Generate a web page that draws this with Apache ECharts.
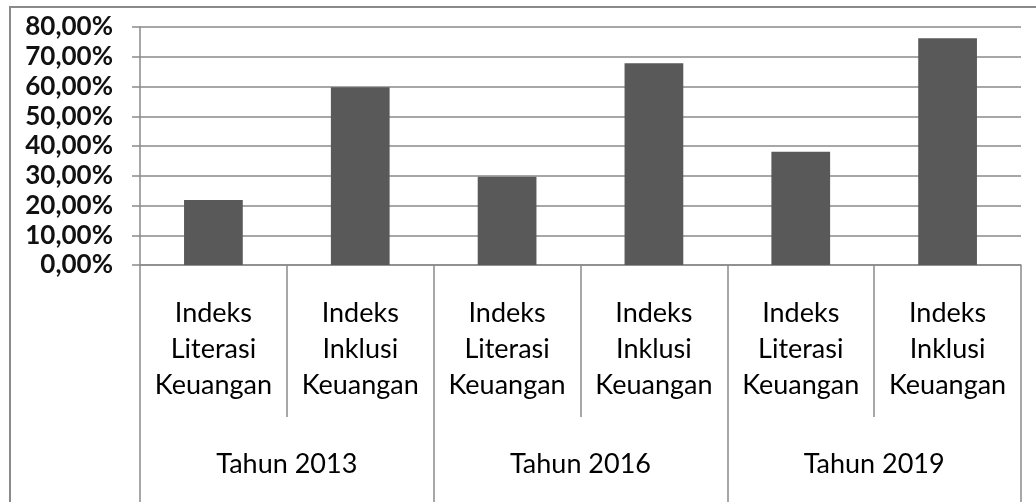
<!DOCTYPE html>
<html>
<head>
<meta charset="utf-8">
<script src="https://cdn.jsdelivr.net/npm/echarts@6/dist/echarts.min.js"></script>
<style>
html,body{margin:0;padding:0;background:#fff;}
#chart{width:1036px;height:502px;}
</style>
</head>
<body>
<div id="chart"></div>
<script>
const categories = [
  "Indeks\nLiterasi\nKeuangan", "Indeks\nInklusi\nKeuangan",
  "Indeks\nLiterasi\nKeuangan", "Indeks\nInklusi\nKeuangan",
  "Indeks\nLiterasi\nKeuangan", "Indeks\nInklusi\nKeuangan"
];
const years = ["Tahun 2013", "Tahun 2016", "Tahun 2019"];
const values = [21.84, 59.74, 29.66, 67.82, 38.03, 76.19];
const yMin = 0, yMax = 80, yStep = 10;

const FONT = "Lato";
const chart = echarts.init(document.getElementById('chart'), null, {renderer: 'canvas'});
chart.setOption({
  backgroundColor: '#fff',
  animation: false,
  graphic: [{
    type: 'rect', shape: {x: 10, y: 7, width: 1100, height: 600},
    style: {fill: 'none', stroke: '#8a8a8a', lineWidth: 2}, z: -10
  }],
  grid: {left: 140, right: 15, top: 27, bottom: 237},
  xAxis: [{
    type: 'category', data: categories, position: 'bottom',
    axisLine: {show: true, lineStyle: {color: '#8a8a8a', width: 1.5}},
    axisTick: {show: true, interval: 0, length: 152, lineStyle: {color: '#8a8a8a', width: 1.5}},
    axisLabel: {interval: 0, margin: 30, fontFamily: FONT, fontSize: 27, lineHeight: 36, color: '#000'}
  }, {
    type: 'category', data: years, position: 'bottom',
    axisLine: {show: false},
    axisTick: {show: true, interval: 0, length: 240, lineStyle: {color: '#8a8a8a', width: 1.5}},
    axisLabel: {interval: 0, margin: 181, fontFamily: FONT, fontSize: 27, lineHeight: 36, color: '#000'}
  }],
  yAxis: {
    type: 'value', min: yMin, max: yMax, interval: yStep,
    axisLine: {show: true, lineStyle: {color: '#8a8a8a', width: 1.5}},
    axisTick: {show: true, length: 8, lineStyle: {color: '#8a8a8a', width: 1.5}},
    splitLine: {show: true, lineStyle: {color: '#8a8a8a', width: 1.5}},
    axisLabel: {margin: 27, fontFamily: FONT, fontSize: 26, fontWeight: 'bold', color: '#111',
      formatter: v => v.toFixed(2).replace('.', ',') + '%'}
  },
  series: [{
    type: 'bar', data: values, xAxisIndex: 0,
    barCategoryGap: '60%',
    itemStyle: {color: '#595959'}
  }]
});
</script>
</body>
</html>
